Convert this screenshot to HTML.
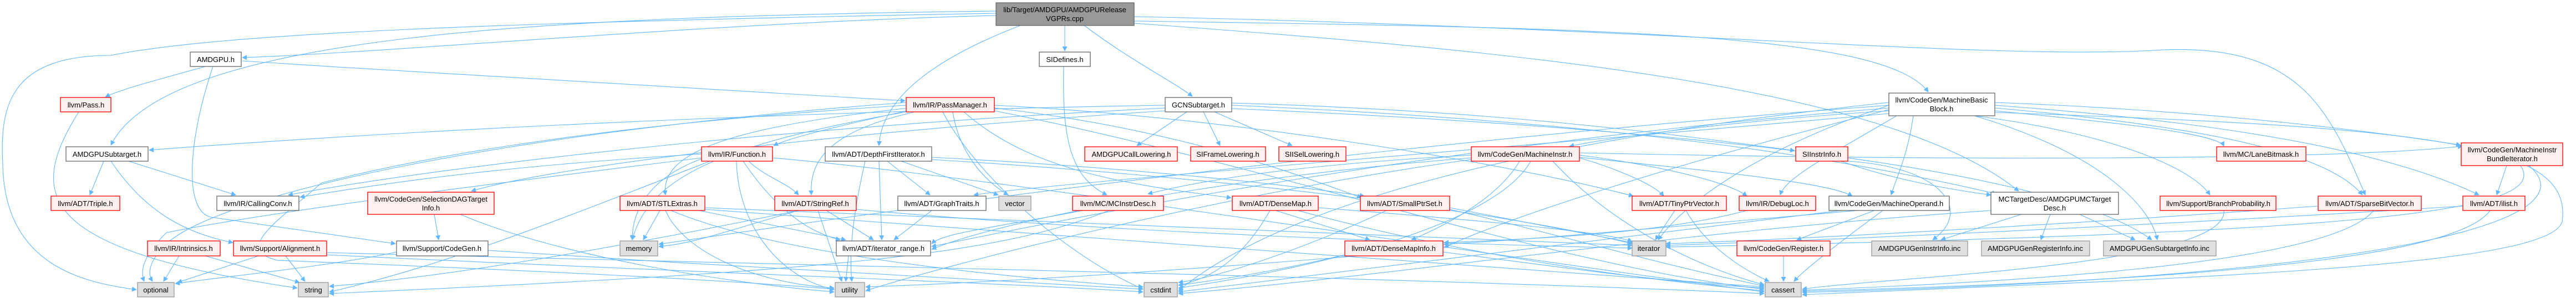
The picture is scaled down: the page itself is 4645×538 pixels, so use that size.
<!DOCTYPE html>
<html><head><meta charset="utf-8"><style>
html,body{margin:0;padding:0;background:#fff;}
svg{display:block;}
text{font-family:"Liberation Sans",Arial,sans-serif;font-size:13px;fill:#000;text-anchor:middle;}
.e{fill:none;stroke:#63b8ff;stroke-width:1.1;marker-end:url(#a);}
.w{fill:#fff;stroke:#666;stroke-width:1.3;}
.r{fill:#fff0f0;stroke:#ff0000;stroke-width:1.3;}
.g{fill:#e0e0e0;stroke:#999;stroke-width:1.3;}
.k{fill:#999;stroke:#666;stroke-width:1.3;}
</style></head><body>
<svg width="4645" height="538" viewBox="0 0 4645 538" xmlns="http://www.w3.org/2000/svg">
<defs><marker id="a" viewBox="0 0 10 10" refX="9" refY="5" markerWidth="9" markerHeight="9" orient="auto" markerUnits="userSpaceOnUse"><path d="M0,0 L10,5 L0,10 z" fill="#63b8ff"/></marker></defs>
<g>
<!-- root -->
<path class="e" d="M1796 28 C1300 40,700 95,437 104"/>
<path class="e" d="M1920 46 L1920 92"/>
<path class="e" d="M1955 46 C2040 110,2120 150,2150 174"/>
<path class="e" d="M1840 46 C1700 100,1590 170,1585 263"/>
<path class="e" d="M2045 38 C2900 50,3400 60,3477 166"/>
<path class="e" d="M2045 42 C2700 90,3400 150,3640 345"/>
<path class="e" d="M1796 20 C1000 30,300 60,200 262"/>
<path class="e" d="M1796 24 C900 40,400 60,200 100 C10 100,0 200,5 300 C10 480,150 510,246 523"/>
<path class="e" d="M2045 30 C3000 50,3600 110,3900 90 C4150 80,4200 200,4265 352"/>
<!-- AMDGPU -->
<path class="e" d="M370 120 C300 140,220 160,190 175"/>
<path class="e" d="M437 110 C900 140,1400 170,1632 182"/>
<path class="e" d="M384 120 C340 250,330 380,380 392 C500 410,650 430,713 440"/>
<path class="e" d="M142 202 C50 350,60 450,536 520"/>
<!-- AMDGPUSubtarget -->
<path class="e" d="M187 291 L162 352"/>
<path class="e" d="M232 291 L425 352"/>
<path class="e" d="M200 291 C260 380,330 420,420 438"/>
<!-- GCN -->
<path class="e" d="M2140 202 L2050 263"/>
<path class="e" d="M2170 202 L2200 263"/>
<path class="e" d="M2190 202 L2330 263"/>
<path class="e" d="M2101 190 C1500 200,800 230,269 271"/>
<path class="e" d="M2221 186 C2700 200,3000 240,3236 272"/>
<path class="e" d="M2101 195 C1400 230,800 300,520 352"/>
<path class="e" d="M2101 200 C1500 240,1000 300,850 345"/>
<path class="e" d="M2221 190 C2900 220,3300 280,3600 350"/>
<path class="e" d="M2221 196 C3000 230,3700 300,3880 433"/>
<!-- SIDefines -->
<path class="e" d="M1918 120 C1915 250,1930 320,1996 352"/>
<!-- PassManager -->
<path class="e" d="M1645 198 C1500 230,1420 250,1395 263"/>
<path class="e" d="M1650 202 C1480 240,1460 300,1463 352"/>
<path class="e" d="M1640 195 C1300 230,1190 280,1200 352"/>
<path class="e" d="M1718 202 C1730 280,1780 330,1818 352"/>
<path class="e" d="M1738 202 C1850 300,2000 330,2220 357"/>
<path class="e" d="M1793 195 C2100 230,2300 300,2455 357"/>
<path class="e" d="M1793 190 C2200 210,2700 290,2945 354"/>
<path class="e" d="M1645 200 C1300 260,1170 320,1140 433"/>
<path class="e" d="M1634 190 C1000 230,700 300,580 330 C500 400,420 450,500 470 C1000 490,1300 505,1504 522"/>
<path class="e" d="M1700 202 C1750 300,1900 450,2061 522"/>
<path class="e" d="M1793 200 C2300 300,2800 480,3181 522"/>
<path class="e" d="M1634 185 C900 240,400 350,300 440 C260 480,270 500,275 508"/>
<!-- DFI -->
<path class="e" d="M1600 291 L1677 352"/>
<path class="e" d="M1625 291 L1800 352"/>
<path class="e" d="M1585 291 L1590 433"/>
<path class="e" d="M1680 284 C2000 300,2300 330,2460 354"/>
<path class="e" d="M1680 288 C2200 320,2700 380,2943 440"/>
<path class="e" d="M1560 291 C1540 380,1530 450,1536 508"/>
<!-- Function -->
<path class="e" d="M1350 291 C1380 320,1420 330,1440 352"/>
<path class="e" d="M1265 278 C900 300,700 330,541 356"/>
<path class="e" d="M1270 285 C1170 320,1140 380,1140 433"/>
<path class="e" d="M1328 291 C1330 400,1400 500,1504 523"/>
<path class="e" d="M1265 285 C900 330,500 380,300 420 C250 470,255 495,260 508"/>
<path class="e" d="M1393 285 C1800 320,2600 450,3181 527"/>
<path class="e" d="M1340 291 C1400 380,1460 420,1515 433"/>
<path class="e" d="M1280 291 C1000 400,800 480,594 527"/>
<!-- MBB -->
<path class="e" d="M3406 200 C3100 220,2900 250,2830 264"/>
<path class="e" d="M3420 209 C3300 280,3220 320,3210 352"/>
<path class="e" d="M3450 209 C3440 280,3420 320,3410 352"/>
<path class="e" d="M3597 200 C3800 220,4000 240,4010 264"/>
<path class="e" d="M3560 209 C3800 240,3950 300,3985 352"/>
<path class="e" d="M3597 195 C4000 230,4200 280,4260 352"/>
<path class="e" d="M3597 190 C4000 220,4300 270,4470 352"/>
<path class="e" d="M3597 185 C4000 200,4300 240,4437 262"/>
<path class="e" d="M3560 209 C3800 280,3880 380,3890 433"/>
<path class="e" d="M3406 205 C2800 260,1900 330,1756 352"/>
<path class="e" d="M3406 195 C2600 260,2000 380,1680 445"/>
<path class="e" d="M3406 198 C3000 300,2700 400,2604 447"/>
<path class="e" d="M3406 190 C3200 260,3050 350,2990 433"/>
<path class="e" d="M3597 203 C4400 230,4640 260,4620 400 C4600 480,4000 500,3250 532"/>
<path class="e" d="M3406 185 C2700 260,2300 380,2125 525"/>
<path class="e" d="M3406 190 C2600 250,1800 350,1188 441"/>
<!-- MachineInstr -->
<path class="e" d="M2740 291 C2700 360,2600 410,2545 433"/>
<path class="e" d="M2848 285 C2900 300,2980 330,3000 354"/>
<path class="e" d="M2653 280 C2300 300,2150 330,2070 350"/>
<path class="e" d="M2848 280 C3000 300,3120 330,3150 354"/>
<path class="e" d="M2848 284 C3100 310,3300 330,3340 354"/>
<path class="e" d="M2760 291 C2700 400,2400 480,2125 520"/>
<path class="e" d="M2653 288 C2200 350,1700 480,1561 525"/>
<path class="e" d="M2800 291 C2900 400,3050 480,3181 514"/>
<path class="e" d="M2848 276 C3500 290,4200 290,4440 264"/>
<path class="e" d="M2653 285 C2200 320,1800 400,1680 450"/>
<!-- SIInstrInfo -->
<path class="e" d="M3320 291 C3400 320,3500 340,3590 352"/>
<path class="e" d="M3330 291 C3500 300,3560 380,3485 433"/>
<!-- SDAGTI -->
<path class="e" d="M783 387 L791 433"/>
<path class="e" d="M830 387 C1000 460,1300 510,1504 527"/>
<!-- STLExtras -->
<path class="e" d="M1190 380 L1160 433"/>
<path class="e" d="M1200 380 C1230 450,1350 510,1504 520"/>
<path class="e" d="M1260 380 L1525 433"/>
<path class="e" d="M1271 375 C1900 400,2500 420,2943 443"/>
<path class="e" d="M1271 378 C1800 420,2700 480,3181 518"/>
<path class="e" d="M1210 380 C1400 460,1800 500,2061 518"/>
<!-- StringRef -->
<path class="e" d="M1475 380 L1518 508"/>
<path class="e" d="M1490 380 L1575 433"/>
<path class="e" d="M1440 380 C1300 420,1250 440,1188 445"/>
<path class="e" d="M1440 380 C1100 450,800 500,594 517"/>
<path class="e" d="M1544 378 C2000 420,2600 440,2943 448"/>
<!-- GraphTraits / MCInstrDesc -->
<path class="e" d="M1680 380 L1612 433"/>
<path class="e" d="M1952 380 C1800 410,1700 420,1680 440"/>
<path class="e" d="M2000 380 C1800 460,1500 490,594 530"/>
<!-- DenseMap -->
<path class="e" d="M2300 380 L2470 433"/>
<path class="e" d="M2290 380 C2250 450,2200 500,2125 515"/>
<path class="e" d="M2377 375 C2700 400,2900 420,2943 436"/>
<path class="e" d="M2340 380 C2600 450,2900 500,3181 525"/>
<!-- SmallPtrSet -->
<path class="e" d="M2614 375 L2943 438"/>
<path class="e" d="M2500 380 C2350 450,2200 500,2125 510"/>
<path class="e" d="M2614 378 C2800 420,3000 480,3181 516"/>
<!-- TinyPtrVector -->
<path class="e" d="M3020 380 L2985 433"/>
<path class="e" d="M3040 380 C3080 450,3150 490,3190 508"/>
<!-- MachineOperand -->
<path class="e" d="M3380 380 L3240 433"/>
<path class="e" d="M3395 380 C3300 450,3250 490,3235 508"/>
<path class="e" d="M3350 380 C3000 410,2800 430,2604 441"/>
<path class="e" d="M3320 380 C3000 420,2500 480,2125 527"/>
<!-- DebugLoc -->
<path class="e" d="M3150 380 C3000 420,2800 430,2604 438"/>
<!-- MCTD -->
<path class="e" d="M3645 387 L3500 433"/>
<path class="e" d="M3697 387 L3680 433"/>
<path class="e" d="M3750 387 L3850 433"/>
<path class="e" d="M3590 380 C3000 420,2500 500,2125 530"/>
<!-- Register -->
<path class="e" d="M3216 462 L3216 508"/>
<!-- Intrinsics / Alignment / CodeGen -->
<path class="e" d="M323 462 L295 508"/>
<path class="e" d="M370 462 L540 510"/>
<path class="e" d="M466 462 L320 510"/>
<path class="e" d="M515 462 L550 508"/>
<path class="e" d="M589 456 C1500 480,2500 500,3181 530"/>
<path class="e" d="M589 460 C1200 490,1800 510,2061 527"/>
<path class="e" d="M715 455 C600 480,400 500,316 512"/>
<path class="e" d="M880 452 C1300 480,1800 510,2061 522"/>
<!-- iterator_range / DenseMapInfo -->
<path class="e" d="M1530 462 L1525 508"/>
<path class="e" d="M2425 460 C2300 490,2200 505,2125 515"/>
<path class="e" d="M2602 455 C2800 480,3000 510,3181 520"/>
<path class="e" d="M2450 462 C2100 490,1800 510,1561 518"/>
<!-- right side -->
<path class="e" d="M4010 380 C4020 480,3400 500,3250 522"/>
<path class="e" d="M4280 380 C4200 480,3600 510,3250 524"/>
<path class="e" d="M4490 380 C4420 480,3800 510,3250 526"/>
<path class="e" d="M4520 299 L4502 352"/>
<path class="e" d="M4560 299 C4680 400,4300 500,3250 528"/>
<path class="e" d="M4545 299 C4600 380,4300 420,3004 446"/>
<path class="e" d="M4441 372 C4000 400,3400 430,3004 443"/>
<path class="e" d="M4180 372 C3800 400,3300 430,3004 440"/>
</g>
<g>
<rect class="k" x="1796" y="5" width="249" height="41"/><text x="1920" y="22">lib/Target/AMDGPU/AMDGPURelease</text><text x="1920" y="38">VGPRs.cpp</text>
<rect class="w" x="343" y="94" width="92" height="26"/><text x="389" y="112">AMDGPU.h</text>
<rect class="w" x="1874" y="94" width="92" height="26"/><text x="1920" y="112">SIDefines.h</text>
<rect class="r" x="109" y="176" width="91" height="26"/><text x="155" y="194">llvm/Pass.h</text>
<rect class="r" x="1634" y="176" width="159" height="26"/><text x="1713" y="194">llvm/IR/PassManager.h</text>
<rect class="w" x="2101" y="176" width="120" height="26"/><text x="2161" y="194">GCNSubtarget.h</text>
<rect class="w" x="3406" y="168" width="191" height="41"/><text x="3501" y="185">llvm/CodeGen/MachineBasic</text><text x="3501" y="201">Block.h</text>
<rect class="w" x="119" y="265" width="148" height="26"/><text x="193" y="283">AMDGPUSubtarget.h</text>
<rect class="r" x="1265" y="265" width="128" height="26"/><text x="1329" y="283">llvm/IR/Function.h</text>
<rect class="w" x="1488" y="265" width="192" height="26"/><text x="1584" y="283">llvm/ADT/DepthFirstIterator.h</text>
<rect class="r" x="1956" y="265" width="167" height="26"/><text x="2040" y="283">AMDGPUCallLowering.h</text>
<rect class="r" x="2147" y="265" width="135" height="26"/><text x="2214" y="283">SIFrameLowering.h</text>
<rect class="r" x="2306" y="265" width="121" height="26"/><text x="2366" y="283">SIISelLowering.h</text>
<rect class="r" x="2653" y="265" width="195" height="26"/><text x="2750" y="283">llvm/CodeGen/MachineInstr.h</text>
<rect class="r" x="3238" y="265" width="94" height="26"/><text x="3285" y="283">SIInstrInfo.h</text>
<rect class="r" x="3997" y="265" width="161" height="26"/><text x="4077" y="283">llvm/MC/LaneBitmask.h</text>
<rect class="r" x="4438" y="258" width="183" height="41"/><text x="4530" y="275">llvm/CodeGen/MachineInstr</text><text x="4530" y="291">BundleIterator.h</text>
<rect class="r" x="92" y="354" width="124" height="26"/><text x="154" y="372">llvm/ADT/Triple.h</text>
<rect class="w" x="391" y="354" width="148" height="26"/><text x="465" y="372">llvm/IR/CallingConv.h</text>
<rect class="r" x="663" y="347" width="228" height="40"/><text x="777" y="364">llvm/CodeGen/SelectionDAGTarget</text><text x="777" y="380">Info.h</text>
<rect class="r" x="1118" y="354" width="153" height="26"/><text x="1194" y="372">llvm/ADT/STLExtras.h</text>
<rect class="r" x="1397" y="354" width="147" height="26"/><text x="1470" y="372">llvm/ADT/StringRef.h</text>
<rect class="w" x="1619" y="354" width="159" height="26"/><text x="1698" y="372">llvm/ADT/GraphTraits.h</text>
<rect class="g" x="1801" y="354" width="58" height="26"/><text x="1830" y="372">vector</text>
<rect class="r" x="1934" y="354" width="164" height="26"/><text x="2016" y="372">llvm/MC/MCInstrDesc.h</text>
<rect class="r" x="2222" y="354" width="155" height="26"/><text x="2300" y="372">llvm/ADT/DenseMap.h</text>
<rect class="r" x="2453" y="354" width="161" height="26"/><text x="2533" y="372">llvm/ADT/SmallPtrSet.h</text>
<rect class="r" x="2943" y="354" width="170" height="26"/><text x="3028" y="372">llvm/ADT/TinyPtrVector.h</text>
<rect class="r" x="3136" y="354" width="138" height="26"/><text x="3205" y="372">llvm/IR/DebugLoc.h</text>
<rect class="w" x="3298" y="354" width="217" height="26"/><text x="3406" y="372">llvm/CodeGen/MachineOperand.h</text>
<rect class="w" x="3590" y="347" width="230" height="40"/><text x="3705" y="364">MCTargetDesc/AMDGPUMCTarget</text><text x="3705" y="380">Desc.h</text>
<rect class="r" x="3895" y="354" width="209" height="26"/><text x="4000" y="372">llvm/Support/BranchProbability.h</text>
<rect class="r" x="4180" y="354" width="186" height="26"/><text x="4273" y="372">llvm/ADT/SparseBitVector.h</text>
<rect class="r" x="4441" y="354" width="112" height="26"/><text x="4497" y="372">llvm/ADT/ilist.h</text>
<rect class="r" x="266" y="435" width="131" height="27"/><text x="331" y="453">llvm/IR/Intrinsics.h</text>
<rect class="r" x="421" y="435" width="168" height="27"/><text x="505" y="453">llvm/Support/Alignment.h</text>
<rect class="w" x="715" y="435" width="165" height="27"/><text x="797" y="453">llvm/Support/CodeGen.h</text>
<rect class="g" x="1118" y="435" width="68" height="27"/><text x="1152" y="453">memory</text>
<rect class="w" x="1508" y="435" width="170" height="27"/><text x="1593" y="453">llvm/ADT/iterator_range.h</text>
<rect class="r" x="2425" y="435" width="177" height="27"/><text x="2513" y="453">llvm/ADT/DenseMapInfo.h</text>
<rect class="g" x="2943" y="435" width="61" height="27"/><text x="2973" y="453">iterator</text>
<rect class="r" x="3132" y="435" width="168" height="27"/><text x="3216" y="453">llvm/CodeGen/Register.h</text>
<rect class="g" x="3375" y="435" width="173" height="27"/><text x="3461" y="453">AMDGPUGenInstrInfo.inc</text>
<rect class="g" x="3573" y="435" width="195" height="27"/><text x="3670" y="453">AMDGPUGenRegisterInfo.inc</text>
<rect class="g" x="3793" y="435" width="203" height="27"/><text x="3894" y="453">AMDGPUGenSubtargetInfo.inc</text>
<rect class="g" x="248" y="510" width="66" height="26"/><text x="281" y="528">optional</text>
<rect class="g" x="538" y="510" width="54" height="26"/><text x="565" y="528">string</text>
<rect class="g" x="1506" y="510" width="53" height="26"/><text x="1532" y="528">utility</text>
<rect class="g" x="2063" y="510" width="60" height="26"/><text x="2093" y="528">cstdint</text>
<rect class="g" x="3183" y="510" width="65" height="26"/><text x="3215" y="528">cassert</text>
</g>
</svg>
</body></html>
